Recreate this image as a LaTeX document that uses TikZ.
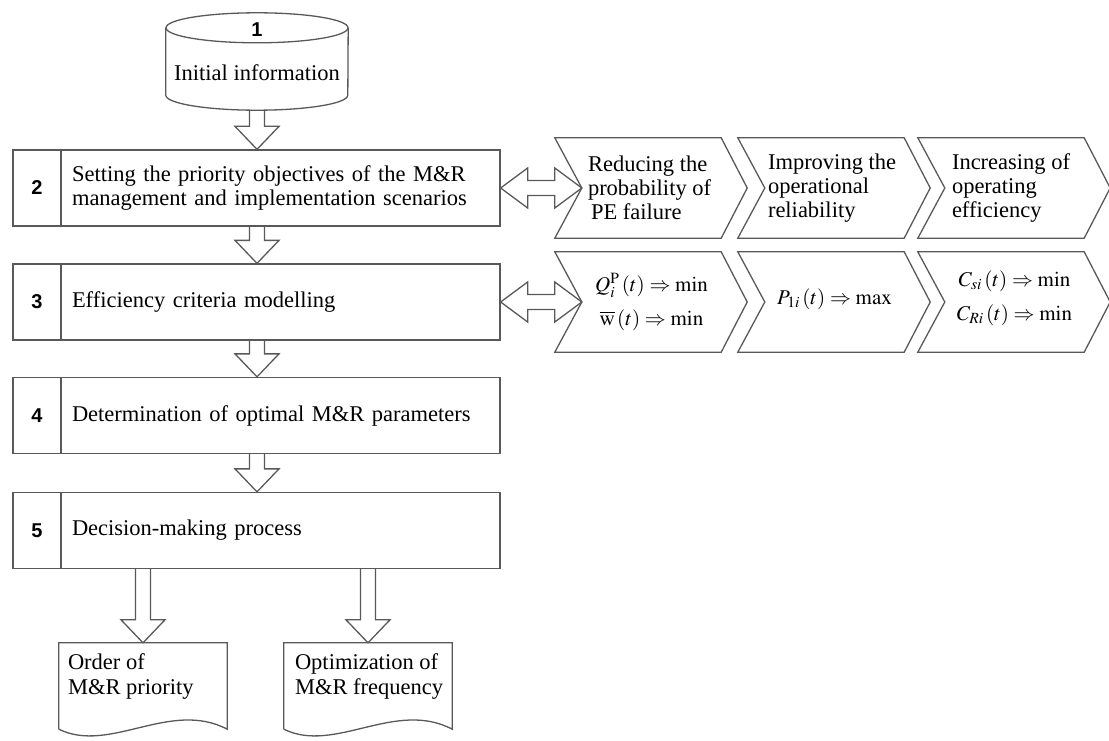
\documentclass[tikz,border=0pt]{standalone}
\usepackage{mathptmx}
\usepackage{fontspec}
\setmainfont{Liberation Serif}
\newfontfamily\numfamily{Liberation Sans}
\usetikzlibrary{calc}
\newcommand{\txtfont}{\fontsize{22.5}{24.5}\selectfont}
\newcommand{\numfont}{\numfamily\bfseries\fontsize{20}{22}\selectfont}
\newcommand{\vblock}[2]{\draw[harrow] let \p1=(#1), \p2=(#2) in
  (\x2-7.5pt,\y1) -- (\x2-7.5pt,\y2+23pt) -- (\x2-22pt,\y2+23pt) -- (\x2,\y2)
  -- (\x2+22pt,\y2+23pt) -- (\x2+7.5pt,\y2+23pt) -- (\x2+7.5pt,\y1);}
\newcommand{\dblarrow}[2]{\draw[harrow] let \p1=(#1), \p2=(#2) in
  (\x1,\y1) -- (\x1+27pt,\y1+20pt) -- (\x1+27pt,\y1+7.5pt) -- (\x2-27pt,\y1+7.5pt)
  -- (\x2-27pt,\y1+20pt) -- (\x2,\y1) -- (\x2-27pt,\y1-20pt) -- (\x2-27pt,\y1-7.5pt)
  -- (\x1+27pt,\y1-7.5pt) -- (\x1+27pt,\y1-20pt) -- cycle;}
\newcommand{\chevshape}[1]{\draw[line] (#1.north west) -- (#1.north east)
  -- ($(#1.east)+(26,0)$) -- (#1.south east) -- (#1.south west)
  -- ($(#1.west)+(27,0)$) -- cycle;}
\newcommand{\docshape}[1]{\draw[line] (#1.south west) -- (#1.north west) -- (#1.north east)
  -- (#1.south east) .. controls ($(#1.south east)+(-57,-30)$) and ($(#1.south west)+(51,25)$) .. (#1.south west);}
\begin{document}
\begin{tikzpicture}[x=1pt,y=-1pt,
  line/.style={draw=black!65, line width=1.3pt, line join=miter},
  harrow/.style={line},
  box/.style={line, rectangle, inner xsep=11pt, inner ysep=0pt, minimum height=76pt,
    text width=417pt, align=left, font=\txtfont},
  numcell/.style={line, rectangle, inner sep=0pt, minimum width=48pt, minimum height=76pt, font=\numfont},
  ghost/.style={rectangle, inner sep=0pt},
  chtext/.style={inner sep=0pt, align=left, font=\fontsize{22.5}{24}\selectfont},
  mathtext/.style={inner sep=0pt, align=center, font=\fontsize{21}{24}\selectfont},
  doctxt/.style={inner sep=0pt, align=left, font=\txtfont}]
\useasboundingbox (0,0) rectangle (1109,741);

% cylinder 1
\node[ghost, minimum width=182pt, minimum height=97pt] (c1) at (257,61.5) {};
\draw[line] ($(c1.north west)+(0,15)$) -- ($(c1.south west)+(0,-15)$)
  arc[start angle=180, end angle=360, x radius=91pt, y radius=15pt]
  -- ($(c1.north east)+(0,15)$);
\draw[line] ($(c1.north)+(0,15)$) ellipse [x radius=91pt, y radius=15pt];
\node[font=\numfont] (c1n) at ($(c1.north)+(0,17)$) {1};
\node[font=\txtfont, inner sep=0pt] (c1t) at ($(c1.north)+(0,60)$) {Initial information};

% boxes
\node[numcell] (n2) at (37,188) {2};
\node[box] (b2) at (280.5,188) {Setting the priority objectives of the M\&R\\management and implementation scenarios};
\node[numcell] (n3) at (37,302) {3};
\node[box] (b3) at (280.5,302) {Efficiency criteria modelling};
\node[numcell] (n4) at (37,415.5) {4};
\node[box] (b4) at (280.5,415.5) {Determination of optimal M\&R parameters};
\node[numcell] (n5) at (37,530.5) {5};
\node[box] (b5) at (280.5,530.5) {Decision-making process};

% vertical block arrows
\vblock{c1.south}{c1.south |- b2.north}
\vblock{c1.south |- b2.south}{c1.south |- b3.north}
\vblock{c1.south |- b3.south}{c1.south |- b4.north}
\vblock{c1.south |- b4.south}{c1.south |- b5.north}

% chevrons
\node[ghost, minimum width=166pt, minimum height=100pt] (ch1) at (638,188) {};
\node[ghost, minimum width=166pt, minimum height=100pt] (ch2) at (821,188) {};
\node[ghost, minimum width=166pt, minimum height=100pt] (ch3) at (1001,188) {};
\node[ghost, minimum width=166pt, minimum height=100pt] (ch4) at (638,302) {};
\node[ghost, minimum width=166pt, minimum height=100pt] (ch5) at (821,302) {};
\node[ghost, minimum width=166pt, minimum height=100pt] (ch6) at (1001,302) {};
\chevshape{ch1}\chevshape{ch2}\chevshape{ch3}
\chevshape{ch4}\chevshape{ch5}\chevshape{ch6}

\node[chtext, anchor=west] (ch1t) at ($(ch1.west)+(33,0)$) {Reducing the\\probability of\\\hspace{3pt}PE failure};
\node[chtext, anchor=west] (ch2t) at ($(ch2.west)+(30,0)$) {Improving the\\operational\\reliability};
\node[chtext, anchor=west] (ch3t) at ($(ch3.west)+(34,0)$) {Increasing of\\operating\\efficiency};

\node[mathtext] (ch4t) at ($(ch4.center)+(13.5,0)$) {$Q_i^{\mathrm{P}}\,(t)\Rightarrow\mathrm{min}$\\[10pt]$\overline{\mathrm{w}}\,(t)\Rightarrow\mathrm{min}$};
\node[mathtext] (ch5t) at ($(ch5.center)+(13.5,-3)$) {$P_{1i}\,(t)\Rightarrow\mathrm{max}$};
\node[mathtext] (ch6t) at ($(ch6.center)+(13.5,-4)$) {$C_{si}\,(t)\Rightarrow\mathrm{min}$\\[10pt]$C_{Ri}\,(t)\Rightarrow\mathrm{min}$};

% double arrows
\dblarrow{b2.east}{$(ch1.west)+(27,0)$}
\dblarrow{b3.east}{$(ch4.west)+(27,0)$}

% documents
\node[ghost, minimum width=168pt, minimum height=86pt] (d1) at (143,686) {};
\node[ghost, minimum width=168pt, minimum height=86pt] (d2) at (368,686) {};
\docshape{d1}\docshape{d2}
\node[doctxt, anchor=north west] (d1t) at ($(d1.north west)+(9,11)$) {Order of\\M\&R priority};
\node[doctxt, anchor=north west] (d2t) at ($(d2.north west)+(11,11)$) {Optimization of\\M\&R frequency};

\vblock{b5.south}{d1.north}
\vblock{b5.south}{d2.north}
\end{tikzpicture}
\end{document}
